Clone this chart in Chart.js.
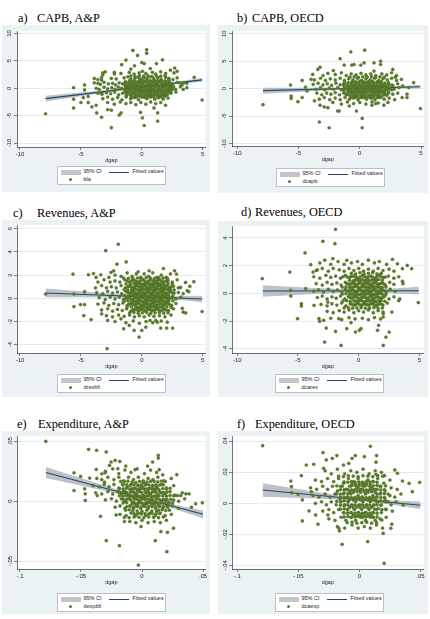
<!DOCTYPE html>
<html>
<head>
<meta charset="utf-8">
<script src="https://cdn.jsdelivr.net/npm/chart.js@4.4.1/dist/chart.umd.min.js"></script>
<style>
html, body { margin: 0; padding: 0; background: #fff; }
body { width: 430px; height: 619px; position: relative; overflow: hidden; }
.ttl { position: absolute; font-family: 'Liberation Serif', 'Times New Roman', serif; font-size: 12.3px; line-height: 1; color: #000; white-space: pre; }
.box { position: absolute; background: #eaf2f3; }
.box canvas { position: absolute; left: 0; top: 0; }
.lg { position: absolute; width: 107px; height: 17px; background: #fff; border: 0.7px solid #b9c1c4; font-family: 'Liberation Sans', Arial, sans-serif; font-size: 5.5px; line-height: 1; color: #222; }
.lg div { position: absolute; }
</style>
</head>
<body>
<script>
////
///////////////////// Data /////////////////////
////

const xTicksGap = [-10, -5, 0, 5];
const xTicksShare = [-.1, -.05, 0, .05];
const yTicksA = [-10, -5, 0, 5, 10];
const yTicksC = [-4, -2, 0, 2, 4, 6];
const yTicksD = [-4, -2, 0, 2, 4];
const yTicksE = [-.05, 0, .05];
const yTicksF = [-.04, -.02, 0, .02, .04];

const seriesNames = ["bla", "dcapb", "drevbfi", "dcarev", "dexpbfi", "dcaexp"];

// a) CAPB, A&P
const aPts = [
    [-7.9,-4.66],[-5.6,0.1],[-5.6,-3.6],[-5.6,-2.0],[-5.0,-2.6],[-4.7,0.6],[-4.7,-0.3],[-4.8,-1.7],[-4.4,-1.5],[-4.4,-2.6],
    [-4.1,-3.4],[-3.9,1.0],[-3.75,-3.1],[-3.7,-4.5],[-3.3,-5.3],[-3.3,1.5],[-3.3,-0.8],[-3.2,2.5],[-3.0,3.0],[-2.8,-3.9],
    [-2.5,-4.0],[-2.5,-7.2],[-2.25,2.6],[-1.85,-4.9],[-1.7,-4.5],[-1.65,4.3],[-1.3,5.15],[-0.73,6.9],[-0.6,4.1],[-0.35,6.0],
    [0,4.7],[0.2,4.5],[0.4,7.05],[0.4,6.4],[-0.1,-4.4],[0.05,-5.4],[0.2,-6.8],[1.0,-3.6],[1.3,-4.5],[1.3,-6.0],
    [1.7,5.2],[1.2,4.5],[1.95,-3.1],[2.7,3.7],[2.9,3.1],[3.4,-0.2],[3.7,0.1],[4.3,2.0],[4.95,-2.15],[3.1,1.0],[3.45,1.0],
    [-3.2,2.8],[-2.26,2.9],[-1.71,2.7],[-1.03,2.9],[-0.63,2.6],[-0.22,2.8],[0.05,3.1],[0.33,2.7],[0.87,2.9],[1.14,2.6],
    [1.55,3.0],[1.96,2.7],[2.64,2.8],[2.35,3.3],[-0.9,3.5],[0.7,3.6],
    [-3.9,1.8],[-3.6,1.6],[-3.3,2.0],[-2.5,1.8],[-2.1,1.7],[-1.45,1.9],[-1.15,2.1],[-0.9,1.7],[-0.57,1.8],[-0.3,2.0],
    [-0.08,1.7],[0.19,1.9],[0.46,1.8],[0.73,2.1],[1.0,1.7],[1.33,1.9],[1.6,1.6],[1.96,2.0],[2.23,1.8],[2.56,1.6],[2.9,1.9],
    [-3.6,0.9],[-3.4,0.7],[-3.1,1.1],[-2.75,0.8],[-2.4,0.9],[-2.15,0.6],[-1.85,1.0],[-1.57,0.8],[-1.3,1.1],[-1.03,0.7],
    [-0.76,1.0],[-0.49,0.8],[-0.22,1.1],[0.05,0.9],[0.33,1.2],[0.6,0.8],[0.87,1.1],[1.14,0.9],[1.41,1.2],[1.68,0.8],
    [1.96,1.0],[2.23,1.2],[2.5,0.8],[2.9,1.1],[3.3,0.6],[3.7,0.9],
    [-3.75,0.0],[-3.5,-0.2],[-3.1,0.2],[-2.8,-0.1],[-2.47,0.1],[-2.2,-0.2],[-1.93,0.2],[-1.66,0.0],[-1.39,-0.2],[-1.11,0.1],
    [-0.84,0.2],[-0.57,-0.1],[-0.3,0.1],[-0.03,-0.2],[0.24,0.2],[0.52,0.0],[0.79,-0.2],[1.06,0.2],[1.33,0.0],[1.6,-0.1],
    [1.88,0.2],[2.15,-0.1],[2.42,0.1],[2.77,-0.2],[3.17,0.3],
    [-3.6,-0.9],[-3.27,-1.1],[-2.9,-0.8],[-2.56,-1.0],[-2.23,-0.7],[-1.9,-1.2],[-1.57,-0.9],[-1.25,-0.7],[-0.92,-1.1],[-0.6,-0.8],
    [-0.27,-1.0],[0.05,-0.7],[0.35,-1.1],[0.68,-0.9],[1.0,-0.6],[1.33,-1.0],[1.65,-0.8],[2.0,-1.1],[2.4,-0.9],[2.8,-0.7],
    [-3.2,-1.9],[-2.8,-1.6],[-2.4,-2.0],[-1.98,-1.7],[-1.63,-2.1],[-1.28,-1.6],[-0.92,-1.9],[-0.6,-1.7],[-0.27,-2.1],[0.05,-1.6],
    [0.41,-1.9],[0.73,-1.6],[1.06,-2.0],[1.41,-1.7],[1.76,-2.0],[2.15,-1.8],
    [-2.8,-2.6],[-2.26,-2.9],[-1.76,-2.5],[-1.3,-2.8],[-0.9,-2.6],[-0.49,-3.0],[-0.08,-2.6],[0.33,-2.9],[0.73,-2.5],[1.14,-2.8],[1.55,-2.6],
    [-0.4,0.45],[-0.1,0.5],[0.2,0.4],[0.5,0.5],[0.8,0.45],[1.1,0.5],[1.4,0.4],[1.7,0.5],[2.0,0.45],
    [-0.35,-0.45],[-0.05,-0.5],[0.25,-0.4],[0.55,-0.5],[0.85,-0.45],[1.15,-0.5],[1.45,-0.4],[1.75,-0.45],
    [-0.2,1.45],[0.1,1.4],[0.4,1.5],[0.7,1.4],[1.0,1.5],[1.3,1.4],[1.6,1.45],
    [-0.5,-1.4],[-0.2,-1.35],[0.1,-1.45],[0.4,-1.35],[0.7,-1.4],[1.0,-1.35],[1.3,-1.45],
    [-1.2,0.4],[-0.9,0.55],[-0.65,0.3],[2.3,0.5],[2.6,0.3],[-1.2,-0.5],[-0.9,-0.35],[-0.6,-0.55],[2.1,-0.5],[2.4,-0.35],
    [-1.0,1.4],[-0.6,1.3],[1.9,1.35],[2.2,1.5],[-1.3,-1.4],[-0.9,-1.35],[1.6,-1.35],[1.9,-1.45]
];
const aCore = [
    [-0.9,2.25],[-0.55,2.15],[-0.2,2.3],[0.15,2.2],[0.5,2.3],[0.85,2.15],[1.2,2.25],[1.55,2.2],[1.9,2.3],
    [-1.35,1.2],[-1.05,1.1],[-0.75,1.25],[-0.45,1.15],[-0.15,1.2],[0.15,1.1],[0.45,1.25],[0.75,1.15],[1.05,1.2],[1.35,1.1],[1.65,1.2],[1.95,1.15],[2.25,1.25],
    [-1.4,0.7],[-1.1,0.65],[-0.8,0.75],[-0.5,0.65],[-0.2,0.7],[0.1,0.75],[0.4,0.65],[0.7,0.7],[1.0,0.75],[1.3,0.65],[1.6,0.7],[1.9,0.75],[2.2,0.65],[2.5,0.7],
    [-1.35,0.25],[-1.05,0.2],[-0.75,0.3],[-0.45,0.2],[-0.15,0.25],[0.15,0.3],[0.45,0.2],[0.75,0.25],[1.05,0.3],[1.35,0.2],[1.65,0.25],[1.95,0.3],[2.25,0.2],[2.55,0.25],
    [-1.4,-0.2],[-1.1,-0.25],[-0.8,-0.15],[-0.5,-0.25],[-0.2,-0.2],[0.1,-0.3],[0.4,-0.2],[0.7,-0.25],[1.0,-0.15],[1.3,-0.25],[1.6,-0.2],[1.9,-0.3],[2.2,-0.2],[2.5,-0.25],
    [-1.35,-0.7],[-1.05,-0.65],[-0.75,-0.75],[-0.45,-0.7],[-0.15,-0.65],[0.15,-0.75],[0.45,-0.7],[0.75,-0.65],[1.05,-0.75],[1.35,-0.7],[1.65,-0.65],[1.95,-0.75],[2.25,-0.7],
    [-1.2,-1.15],[-0.9,-1.2],[-0.6,-1.1],[-0.3,-1.2],[0.0,-1.15],[0.3,-1.1],[0.6,-1.2],[0.9,-1.15],[1.2,-1.1],[1.5,-1.2],[1.8,-1.15],[2.1,-1.2],
    [-0.8,-1.6],[-0.45,-1.65],[-0.1,-1.55],[0.25,-1.65],[0.6,-1.6],[0.95,-1.55],[1.3,-1.65],[1.65,-1.6]
];
const aFitX = [-7.9, 4.95];
const aFitY = [-1.9, 1.53];
const aCiX = [-7.9, -4, -1, 0.5, 2.5, 4.95];
const aCiLo = [-2.42, -1.16, -0.23, 0.2, 0.68, 1.21];
const aCiHi = [-1.38, -0.56, 0.11, 0.48, 1.08, 1.85];

// b) CAPB, OECD
const bPts = [
    [-7.9,-2.9],[-5.65,0.67],[-5.6,-1.33],[-5.6,-1.76],[-5.05,-2.36],[-4.7,1.5],[-4.7,-1.6],[-4.43,0.3],[-4.3,-0.4],[-3.97,1.7],
    [-3.84,2.6],[-3.7,-2.2],[-3.43,3.5],[-3.24,3.9],[-3.24,-3.0],[-3.3,-6.06],[-2.9,-3.3],[-2.6,-3.45],[-2.5,-7.1],[-2.16,3.3],
    [-1.8,-4.06],[-1.68,-4.06],[-1.6,5.45],[-1.27,4.3],[-0.73,6.7],[-0.65,4.3],[-0.46,4.4],[-0.27,-4.06],[0.08,4.3],[0.35,4.7],
    [0.4,7.0],[0.2,-5.4],[0.2,-7.1],[1.16,4.7],[1.7,5.0],[1.7,4.4],[1.16,3.2],[2.7,3.5],[2.9,2.1],[3.46,-1.6],
    [3.86,-1.0],[3.86,-1.6],[4.4,1.1],[4.0,0.2],[4.95,-3.6],[1.0,-3.0],[1.97,-3.0],[1.3,-2.7],[-0.86,-3.15],
    [-3.0,2.4],[-2.6,2.8],[-2.0,2.6],[-1.5,2.9],[-1.1,2.4],[-0.7,2.7],[-0.3,2.5],[0.1,2.8],[0.5,2.5],[0.9,2.7],
    [1.3,2.4],[1.8,2.7],[2.2,2.5],[2.6,2.9],[3.0,2.4],
    [-3.7,1.6],[-3.2,1.9],[-2.8,1.5],[-2.4,1.8],[-2.0,1.6],[-1.6,1.9],[-1.25,1.5],[-0.9,1.8],[-0.55,1.6],[-0.2,1.9],
    [0.15,1.5],[0.5,1.8],[0.85,1.6],[1.2,1.9],[1.55,1.5],[1.9,1.8],[2.25,1.6],[2.6,1.9],[3.0,1.5],[3.4,1.7],
    [-3.8,0.8],[-3.4,1.0],[-3.0,0.7],[-2.65,0.9],[-2.3,0.6],[-1.95,1.0],[-1.6,0.7],[-1.3,0.9],[-1.0,0.6],[-0.7,1.0],
    [-0.4,0.7],[-0.1,0.9],[0.2,0.6],[0.5,1.0],[0.8,0.7],[1.1,0.9],[1.4,0.6],[1.7,1.0],[2.0,0.7],[2.35,0.9],[2.7,0.6],[3.1,0.9],[3.5,0.5],
    [-3.6,-0.1],[-3.2,0.2],[-2.85,-0.2],[-2.5,0.1],[-2.15,-0.1],[-1.8,0.2],[-1.5,-0.2],[-1.2,0.1],[-0.9,-0.1],[-0.6,0.2],
    [-0.3,-0.2],[0.0,0.1],[0.3,-0.1],[0.6,0.2],[0.9,-0.2],[1.2,0.1],[1.5,-0.1],[1.8,0.2],[2.1,-0.2],[2.45,0.1],[2.8,-0.1],[3.2,0.2],
    [-3.5,-0.8],[-3.1,-1.1],[-2.7,-0.8],[-2.35,-1.0],[-2.0,-0.7],[-1.65,-1.1],[-1.3,-0.8],[-1.0,-1.0],[-0.7,-0.7],[-0.4,-1.1],
    [-0.1,-0.8],[0.2,-1.0],[0.5,-0.7],[0.8,-1.1],[1.1,-0.8],[1.4,-1.0],[1.7,-0.7],[2.0,-1.1],[2.35,-0.8],[2.7,-1.0],[3.1,-0.8],
    [-3.3,-1.9],[-2.9,-1.6],[-2.45,-2.0],[-2.0,-1.7],[-1.6,-2.0],[-1.2,-1.6],[-0.85,-1.9],[-0.5,-1.7],[-0.15,-2.0],[0.2,-1.6],
    [0.55,-1.9],[0.9,-1.7],[1.25,-2.0],[1.6,-1.6],[2.0,-1.9],[2.4,-1.7],[2.85,-2.0],
    [-2.2,-2.5],[-1.5,-2.8],[-1.0,-2.4],[-0.5,-2.7],[0.0,-2.5],[0.5,-2.8],[1.0,-2.4],[1.5,-2.6],[2.3,-2.5],
    [-0.85,0.4],[-0.55,0.45],[-0.25,0.35],[0.05,0.45],[0.35,0.4],[0.65,0.45],[0.95,0.35],[1.25,0.45],[1.55,0.4],[1.85,0.45],[2.15,0.35],
    [-0.85,-0.45],[-0.55,-0.5],[-0.25,-0.4],[0.05,-0.5],[0.35,-0.45],[0.65,-0.4],[0.95,-0.5],[1.25,-0.45],[1.55,-0.4],[1.85,-0.5],
    [-0.6,1.3],[-0.3,1.25],[0.0,1.35],[0.35,1.25],[0.7,1.3],[1.05,1.35],[1.4,1.25],[1.75,1.3],
    [-0.6,-1.35],[-0.25,-1.4],[0.1,-1.3],[0.45,-1.4],[0.8,-1.35],[1.15,-1.3],[1.5,-1.4]
];
const bCore = [
    [-0.8,2.1],[-0.45,2.2],[-0.1,2.05],[0.25,2.15],[0.6,2.1],[0.95,2.2],[1.3,2.05],[1.65,2.15],[2.0,2.1],
    [-1.25,1.05],[-0.95,1.1],[-0.65,1.0],[-0.35,1.1],[-0.05,1.05],[0.25,1.0],[0.55,1.1],[0.85,1.05],[1.15,1.0],[1.45,1.1],[1.75,1.05],[2.05,1.0],[2.35,1.1],
    [-1.3,0.6],[-1.0,0.65],[-0.7,0.55],[-0.4,0.6],[-0.1,0.65],[0.2,0.55],[0.5,0.6],[0.8,0.65],[1.1,0.55],[1.4,0.6],[1.7,0.65],[2.0,0.55],[2.3,0.6],[2.6,0.65],
    [-1.25,0.2],[-0.95,0.25],[-0.65,0.15],[-0.35,0.2],[-0.05,0.25],[0.25,0.15],[0.55,0.2],[0.85,0.25],[1.15,0.15],[1.45,0.2],[1.75,0.25],[2.05,0.15],[2.35,0.2],
    [-1.3,-0.25],[-1.0,-0.2],[-0.7,-0.3],[-0.4,-0.25],[-0.1,-0.2],[0.2,-0.3],[0.5,-0.25],[0.8,-0.2],[1.1,-0.3],[1.4,-0.25],[1.7,-0.2],[2.0,-0.3],[2.3,-0.25],[2.6,-0.2],
    [-1.25,-0.7],[-0.95,-0.65],[-0.65,-0.75],[-0.35,-0.7],[-0.05,-0.65],[0.25,-0.75],[0.55,-0.7],[0.85,-0.65],[1.15,-0.75],[1.45,-0.7],[1.75,-0.65],[2.05,-0.75],[2.35,-0.7],
    [-1.1,-1.15],[-0.8,-1.2],[-0.5,-1.1],[-0.2,-1.2],[0.1,-1.15],[0.4,-1.1],[0.7,-1.2],[1.0,-1.15],[1.3,-1.1],[1.6,-1.2],[1.9,-1.15],[2.2,-1.2],
    [-0.7,-1.6],[-0.35,-1.55],[0.0,-1.65],[0.35,-1.6],[0.7,-1.55],[1.05,-1.65],[1.4,-1.6],[1.75,-1.55]
];
const bFitX = [-7.9, 4.95];
const bFitY = [-0.36, 0.36];
const bCiX = [-7.9, -4, -1, 0.5, 2.5, 4.95];
const bCiLo = [-0.91, -0.46, -0.15, -0.03, 0.02, 0.04];
const bCiHi = [0.19, 0.18, 0.19, 0.25, 0.42, 0.68];

// c) Revenues, A&P
const cPts = [
    [-7.9,0.37],[-5.65,2.09],[-5.57,0.37],[-5.57,-0.71],[-5.03,-0.54],[-4.7,0.57],[-4.7,-0.54],[-4.76,-1.49],[-4.38,2.03],[-4.16,-1.83],
    [-3.97,2.14],[-3.75,1.8],[-3.37,2.03],[-3.29,-1.34],[-2.96,4.11],[-2.8,-1.91],[-2.85,-4.34],[-2.53,2.23],[-2.31,2.37],[-1.93,4.66],
    [-2.04,2.94],[-1.71,-1.77],[-1.49,-2.63],[-1.28,3.14],[-1.03,-2.34],[-0.63,-2.77],[-0.3,2.29],[-0.22,-3.34],[0,-2.77],[0.33,-2.49],
    [0.6,2.37],[0.68,-1.91],[1.14,-1.91],[1.28,-2.06],[1.55,-2.57],[1.77,2.57],[2.04,-2.57],[2.09,-2.06],[2.53,-2.57],[2.69,2.37],
    [2.85,2.09],[3.18,0.94],[3.32,-0.86],[3.4,-1.2],[3.59,1.37],[3.61,-1.26],[3.72,0.66],[4.27,1.43],[4.95,-1.14],[3.86,0.57],[3.94,1.03],
    [-2.7,1.8],[-2.2,2.0],[-1.7,1.9],[-1.2,2.2],[-0.8,1.9],[-0.45,2.1],[-0.1,1.8],[0.2,2.1],[0.55,1.9],[0.9,2.2],
    [1.25,1.8],[1.6,2.0],[2.0,1.8],[2.35,2.1],
    [-3.6,1.4],[-3.1,1.6],[-2.6,1.4],[-2.2,1.5],[-1.8,1.4],[-1.4,1.6],[-1.0,1.4],[-0.65,1.6],[-0.3,1.4],[0.05,1.6],
    [0.4,1.4],[0.75,1.6],[1.1,1.45],[1.45,1.6],[1.8,1.4],[2.15,1.55],[2.5,1.4],[2.9,1.6],
    [-3.8,0.9],[-3.3,1.1],[-2.9,0.9],[-2.5,1.0],[-2.1,0.9],[-1.7,1.1],[-1.35,0.9],[-1.0,1.05],[-0.7,0.9],[-0.4,1.1],
    [-0.1,0.95],[0.2,1.1],[0.5,0.9],[0.8,1.05],[1.1,0.9],[1.4,1.1],[1.7,0.95],[2.0,1.1],[2.3,0.9],[2.6,1.05],[3.0,0.9],
    [-3.7,0.5],[-3.2,0.4],[-2.8,0.6],[-2.4,0.45],[-2.0,0.55],[-1.65,0.4],[-1.3,0.6],[-1.0,0.45],[-0.7,0.55],[-0.4,0.4],
    [-0.1,0.6],[0.2,0.45],[0.5,0.55],[0.8,0.4],[1.1,0.6],[1.4,0.45],[1.7,0.55],[2.0,0.4],[2.3,0.6],[2.65,0.45],[3.0,0.5],[3.4,0.4],
    [-3.5,0.05],[-3.0,-0.1],[-2.6,0.1],[-2.2,-0.05],[-1.85,0.1],[-1.5,-0.1],[-1.15,0.05],[-0.85,-0.1],[-0.55,0.1],[-0.25,-0.05],
    [0.05,0.1],[0.35,-0.1],[0.65,0.05],[0.95,-0.1],[1.25,0.1],[1.55,-0.05],[1.85,0.1],[2.15,-0.1],[2.45,0.05],[2.8,-0.05],[3.2,0.1],
    [-3.6,-0.5],[-3.1,-0.4],[-2.7,-0.6],[-2.3,-0.45],[-1.9,-0.55],[-1.55,-0.4],[-1.2,-0.6],[-0.9,-0.45],[-0.6,-0.55],[-0.3,-0.4],
    [0.0,-0.6],[0.3,-0.45],[0.6,-0.55],[0.9,-0.4],[1.2,-0.6],[1.5,-0.45],[1.8,-0.55],[2.1,-0.4],[2.45,-0.6],[2.8,-0.45],
    [-3.3,-1.0],[-2.8,-0.9],[-2.4,-1.1],[-2.0,-0.95],[-1.6,-1.05],[-1.25,-0.9],[-0.9,-1.1],[-0.6,-0.95],[-0.3,-1.05],[0.0,-0.9],
    [0.3,-1.1],[0.6,-0.95],[0.9,-1.05],[1.2,-0.9],[1.5,-1.1],[1.85,-0.95],[2.2,-1.05],[2.6,-0.9],
    [-2.9,-1.5],[-2.4,-1.6],[-1.9,-1.45],[-1.45,-1.55],[-1.0,-1.45],[-0.6,-1.6],[-0.2,-1.5],[0.2,-1.6],[0.6,-1.45],[1.0,-1.55],
    [1.45,-1.5],[1.9,-1.6],[2.4,-1.45],
    [-2.2,-2.0],[-1.3,-2.1],[-0.7,-1.95],[-0.2,-2.15],[0.35,-2.0],[0.9,-2.1],[1.6,-1.95],
    [-0.85,0.75],[-0.55,0.8],[-0.25,0.7],[0.05,0.8],[0.35,0.75],[0.65,0.8],[0.95,0.7],[1.25,0.8],[1.55,0.75],[1.85,0.8],[2.15,0.75],
    [-0.7,0.25],[-0.4,0.2],[-0.1,0.3],[0.2,0.25],[0.5,0.2],[0.8,0.3],[1.1,0.25],[1.4,0.2],[1.7,0.3],[2.0,0.25],
    [-0.7,-0.25],[-0.4,-0.3],[-0.1,-0.2],[0.2,-0.3],[0.5,-0.25],[0.8,-0.2],[1.1,-0.3],[1.4,-0.25],[1.7,-0.2],[2.0,-0.3],
    [-0.5,-0.75],[-0.2,-0.8],[0.1,-0.7],[0.4,-0.8],[0.7,-0.75],[1.0,-0.7],[1.3,-0.8],[1.6,-0.75],
    [-0.5,1.25],[-0.2,1.3],[0.1,1.2],[0.4,1.3],[0.7,1.25],[1.0,1.2],[1.3,1.3],[1.6,1.25]
];
const cCore = [
    [-1.2,1.5],[-0.83,1.52],[-0.48,1.48],[-0.13,1.5],[0.22,1.52],[0.57,1.5],[0.93,1.48],[1.28,1.52],[1.63,1.5],[1.98,1.48],
    [-1.15,1.0],[-0.85,0.98],[-0.55,1.02],[-0.25,1.0],[0.05,0.98],[0.35,1.02],[0.65,1.0],[0.95,0.98],[1.25,1.02],[1.55,1.0],[1.85,0.98],[2.15,1.02],[2.45,1.0],
    [-1.15,0.5],[-0.85,0.52],[-0.55,0.48],[-0.25,0.5],[0.05,0.52],[0.35,0.48],[0.65,0.5],[0.95,0.52],[1.25,0.48],[1.55,0.5],[1.85,0.52],[2.15,0.48],[2.45,0.5],
    [-1.3,0.0],[-1.0,0.02],[-0.7,-0.02],[-0.4,0.0],[-0.1,0.02],[0.2,-0.02],[0.5,0.0],[0.8,0.02],[1.1,-0.02],[1.4,0.0],[1.7,0.02],[2.0,-0.02],[2.3,0.0],
    [-1.05,-0.5],[-0.75,-0.48],[-0.45,-0.52],[-0.15,-0.5],[0.15,-0.48],[0.45,-0.52],[0.75,-0.5],[1.05,-0.48],[1.35,-0.52],[1.65,-0.5],[1.95,-0.48],[2.25,-0.52],
    [-0.75,-1.0],[-0.45,-0.98],[-0.15,-1.02],[0.15,-1.0],[0.45,-0.98],[0.75,-1.02],[1.05,-1.0],[1.35,-0.98],[1.7,-1.02],[2.0,-1.0],
    [-1.5,1.75],[-1.1,1.72],[-0.75,1.78],[-0.35,1.75],[0.0,1.72],[0.35,1.78],[0.7,1.75],[1.05,1.72],[1.4,1.78],[1.75,1.75],[2.1,1.72],
    [-1.3,1.25],[-0.95,1.22],[-0.65,1.28],[-0.35,1.25],[-0.05,1.22],[0.25,1.28],[0.55,1.25],[0.85,1.22],[1.15,1.28],[1.45,1.25],[1.8,1.22],[2.15,1.28],[2.5,1.25],
    [-1.45,0.75],[-1.15,0.72],[-0.7,0.78],[-0.4,0.75],[-0.1,0.72],[0.2,0.78],[0.5,0.75],[0.8,0.72],[1.1,0.78],[1.4,0.75],[1.7,0.72],[2.0,0.78],[2.35,0.75],[2.65,0.72],
    [-1.4,0.25],[-1.1,0.22],[-0.85,0.28],[-0.55,0.25],[-0.25,0.22],[0.05,0.28],[0.35,0.25],[0.65,0.22],[0.95,0.28],[1.25,0.25],[1.55,0.22],[1.85,0.28],[2.2,0.25],[2.55,0.22],
    [-1.45,-0.25],[-1.15,-0.22],[-0.85,-0.28],[-0.55,-0.25],[-0.25,-0.22],[0.05,-0.28],[0.35,-0.25],[0.65,-0.22],[0.95,-0.28],[1.25,-0.25],[1.55,-0.22],[1.85,-0.28],[2.2,-0.25],[2.55,-0.22],
    [-1.2,-0.75],[-0.85,-0.72],[-0.35,-0.78],[-0.05,-0.75],[0.25,-0.72],[0.55,-0.78],[0.85,-0.75],[1.15,-0.72],[1.45,-0.78],[1.75,-0.75],[2.05,-0.72],[2.4,-0.78],
    [-1.0,-1.25],[-0.65,-1.22],[-0.3,-1.28],[0.05,-1.25],[0.4,-1.22],[0.75,-1.28],[1.1,-1.25],[1.45,-1.22],[1.8,-1.28],[2.15,-1.25]
];
const cFitX = [-7.9, 4.95];
const cFitY = [0.46, -0.06];
const cCiX = [-7.9, -4, -1, 0.5, 2.5, 4.95];
const cCiLo = [0.08, 0.08, 0.07, 0.03, -0.09, -0.33];
const cCiHi = [0.84, 0.52, 0.29, 0.21, 0.17, 0.21];

// d) Revenues, OECD
const dPts = [
    [-7.94,1.06],[-5.67,1.54],[-5.62,0.22],[-5.59,-0.19],[-5.04,-1.83],[-4.72,-0.75],[-4.72,-0.92],[-4.42,2.92],[-4.36,0.34],[-3.95,2.07],
    [-3.76,1.54],[-3.68,-0.87],[-3.49,1.66],[-3.27,-1.83],[-3.22,-2.02],[-2.95,3.76],[-2.89,-1.95],[-2.81,-3.52],[-2.67,-2.51],[-2.54,-0.63],
    [-2.13,2.51],[-1.96,3.59],[-1.91,4.63],[-1.91,-2.75],[-1.45,-3.76],[-1.64,-1.83],[-0.98,2.39],[-0.98,-2.55],[-0.63,-2.12],[-0.27,-2.8],
    [0.05,-2.67],[0.19,-2.55],[1.55,-2.67],[1.64,-2.31],[2.02,-1.47],[2.02,-1.71],[2.02,-3.76],[2.24,-3.16],[2.51,-2.8],[2.78,2.46],
    [3.19,2.14],[3.6,1.78],[3.6,0.87],[3.65,0.7],[4.0,2.02],[4.36,1.78],[4.91,-0.67],[3.3,-0.53],[2.73,-1.35],[3.38,-0.39],
    [-3.2,2.2],[-2.8,2.4],[-2.3,2.1],[-1.7,2.3],[-1.2,2.1],[-0.6,2.2],[-0.1,2.3],[0.3,2.1],[0.8,2.4],[1.3,2.2],[1.7,2.3],[2.3,2.1],
    [-3.4,1.7],[-3.0,1.8],[-2.5,1.6],[-2.1,1.8],[-1.6,1.7],[-1.2,1.6],[-0.8,1.8],[-0.4,1.65],[0.0,1.8],[0.4,1.6],
    [0.8,1.75],[1.2,1.6],[1.6,1.8],[2.0,1.65],[2.5,1.75],[2.9,1.6],
    [-3.7,1.2],[-3.2,1.1],[-2.7,1.3],[-2.3,1.15],[-1.9,1.25],[-1.5,1.1],[-1.1,1.3],[-0.75,1.15],[-0.4,1.25],[-0.05,1.1],
    [0.3,1.3],[0.65,1.15],[1.0,1.25],[1.35,1.1],[1.7,1.3],[2.05,1.15],[2.45,1.25],[2.9,1.1],[3.3,1.2],
    [-3.5,0.7],[-3.0,0.6],[-2.6,0.8],[-2.2,0.65],[-1.8,0.75],[-1.45,0.6],[-1.1,0.8],[-0.8,0.65],[-0.5,0.75],[-0.2,0.6],
    [0.1,0.8],[0.4,0.65],[0.7,0.75],[1.0,0.6],[1.3,0.8],[1.6,0.65],[1.9,0.75],[2.2,0.6],[2.55,0.8],[2.9,0.65],
    [-3.7,0.15],[-3.3,0.25],[-2.9,0.1],[-2.5,0.3],[-2.1,0.15],[-1.75,0.25],[-1.4,0.1],[-1.1,0.3],[-0.8,0.15],[-0.5,0.25],
    [-0.2,0.1],[0.1,0.3],[0.4,0.15],[0.7,0.25],[1.0,0.1],[1.3,0.3],[1.6,0.15],[1.9,0.25],[2.25,0.1],[2.6,0.3],[3.0,0.15],
    [-3.4,-0.3],[-3.0,-0.2],[-2.6,-0.4],[-2.2,-0.25],[-1.85,-0.35],[-1.5,-0.2],[-1.15,-0.4],[-0.85,-0.25],[-0.55,-0.35],[-0.25,-0.2],
    [0.05,-0.4],[0.35,-0.25],[0.65,-0.35],[0.95,-0.2],[1.25,-0.4],[1.55,-0.25],[1.85,-0.35],[2.15,-0.2],[2.5,-0.4],[2.9,-0.25],
    [-3.1,-0.8],[-2.6,-0.9],[-2.2,-0.75],[-1.8,-0.85],[-1.4,-0.7],[-1.05,-0.9],[-0.7,-0.75],[-0.4,-0.85],[-0.1,-0.7],[0.2,-0.9],
    [0.5,-0.75],[0.8,-0.85],[1.1,-0.7],[1.4,-0.9],[1.7,-0.75],[2.0,-0.85],[2.35,-0.7],
    [-2.6,-1.3],[-2.1,-1.4],[-1.6,-1.25],[-1.2,-1.35],[-0.8,-1.2],[-0.4,-1.4],[0.0,-1.25],[0.4,-1.35],[0.8,-1.2],[1.2,-1.4],[1.6,-1.25],[2.0,-1.35],
    [-2.3,-1.8],[-1.4,-1.9],[-0.8,-1.75],[-0.3,-1.85],[0.3,-1.8],[0.8,-1.9],[1.3,-1.75],[1.8,-1.85],
    [-0.6,0.45],[-0.3,0.5],[0.0,0.4],[0.3,0.5],[0.6,0.45],[0.9,0.4],[1.2,0.5],[1.5,0.45],[1.8,0.4],
    [-0.6,-0.05],[-0.3,0.0],[0.0,-0.1],[0.3,0.0],[0.6,-0.05],[0.9,0.0],[1.2,-0.1],[1.5,-0.05],[1.8,0.0],
    [-0.4,-0.55],[-0.1,-0.6],[0.2,-0.5],[0.5,-0.6],[0.8,-0.55],[1.1,-0.5],[1.4,-0.6],[1.7,-0.55],
    [-0.3,0.95],[0.0,0.9],[0.3,1.0],[0.6,0.95],[0.9,0.9],[1.2,1.0],[1.5,0.95]
];
const dCore = [
    [-0.6,1.45],[-0.25,1.4],[0.1,1.5],[0.45,1.4],[0.8,1.45],[1.15,1.5],[1.5,1.4],[1.85,1.45],
    [-0.75,0.95],[-0.45,0.9],[-0.15,1.0],[0.15,0.95],[0.45,0.9],[0.75,1.0],[1.05,0.95],[1.35,0.9],[1.65,1.0],[1.95,0.95],
    [-0.95,0.7],[-0.65,0.7],[-0.35,0.72],[-0.05,0.68],[0.25,0.7],[0.55,0.72],[0.85,0.68],[1.15,0.7],[1.45,0.72],[1.75,0.68],[2.05,0.7],
    [-0.95,0.2],[-0.65,0.22],[-0.35,0.18],[-0.05,0.2],[0.25,0.22],[0.55,0.18],[0.85,0.2],[1.15,0.22],[1.45,0.18],[1.75,0.2],[2.05,0.22],
    [-0.7,-0.3],[-0.4,-0.28],[-0.1,-0.32],[0.2,-0.3],[0.5,-0.28],[0.8,-0.32],[1.1,-0.3],[1.4,-0.28],[1.7,-0.32],[2.0,-0.3],
    [-0.55,-0.8],[-0.25,-0.82],[0.05,-0.78],[0.35,-0.8],[0.65,-0.82],[0.95,-0.78],[1.25,-0.8],[1.55,-0.82],[1.85,-0.78],
    [-1.3,1.2],[-0.95,1.18],[-0.6,1.22],[-0.25,1.2],[0.1,1.18],[0.45,1.22],[0.8,1.2],[1.15,1.18],[1.5,1.22],[1.85,1.2],[2.2,1.18],
    [-1.35,0.45],[-1.05,0.47],[-0.75,0.43],[-0.45,0.45],[-0.15,0.47],[0.15,0.43],[0.45,0.45],[0.75,0.47],[1.05,0.43],[1.35,0.45],[1.65,0.47],[1.95,0.43],[2.25,0.45],
    [-1.35,-0.05],[-1.05,-0.03],[-0.75,-0.07],[-0.45,-0.05],[-0.15,-0.03],[0.15,-0.07],[0.45,-0.05],[0.75,-0.03],[1.05,-0.07],[1.35,-0.05],[1.65,-0.03],[1.95,-0.07],[2.25,-0.05],
    [-1.3,-0.55],[-1.0,-0.53],[-0.7,-0.57],[-0.25,-0.55],[0.05,-0.53],[0.35,-0.57],[0.65,-0.55],[0.95,-0.53],[1.25,-0.57],[1.55,-0.55],[1.85,-0.53],[2.15,-0.57],
    [-1.2,-1.05],[-0.85,-1.03],[-0.5,-1.07],[-0.15,-1.05],[0.2,-1.03],[0.55,-1.07],[0.9,-1.05],[1.25,-1.03],[1.6,-1.07],[1.95,-1.05]
];
const dFitX = [-7.9, 4.95];
const dFitY = [0.17, 0.19];
const dCiX = [-7.9, -4, -1, 0.5, 2.5, 4.95];
const dCiLo = [-0.25, -0.07, 0.05, 0.07, 0.03, -0.09];
const dCiHi = [0.59, 0.41, 0.29, 0.27, 0.33, 0.47];

// e) Expenditure, A&P
const ePts = [
    [-.0788,.050],[-.0557,.0237],[-.0503,.0207],[-.0557,.0089],[-.047,.0103],[-.0465,.0061],[-.0465,.0006],[-.0438,.0433],[-.0429,.0193],[-.0372,.0425],
    [-.0375,.0265],[-.0367,.0047],[-.034,-.0126],[-.0329,.0229],[-.0302,.0237],[-.0293,.0411],[-.0293,-.033],[-.0307,.0159],[-.0266,.0299],[-.0253,.0327],
    [-.022,.0341],[-.0198,.0271],[-.0212,-.0115],[-.0182,.0332],[-.0185,-.0372],[-.0144,-.017],[-.0133,.0293],[-.0057,.0263],[-.003,-.0534],[-.0008,-.0212],
    [.0046,.0293],[.0087,.0327],[.0133,.0383],[.0133,.036],[.0141,.0263],[.0109,-.033],[.0155,-.0254],[.0204,-.0422],[.0209,-.026],[.0258,-.0226],
    [.0285,.0221],[.0291,.0047],[.0318,.0047],[.0359,.0061],[.0386,.0061],[.0405,-.005],[.044,-.0022],[.0495,-.0014],
    [-.030,.025],[-.024,.027],[-.019,.023],[-.014,.026],[-.009,.024],[-.004,.027],[.002,.023],[.007,.026],[.012,.024],[.017,.022],
    [-.037,.019],[-.033,.018],[-.028,.020],[-.023,.018],[-.019,.020],[-.015,.017],[-.011,.020],[-.007,.018],[-.003,.020],[.001,.017],
    [.005,.019],[.009,.018],[.013,.020],[.018,.017],[.024,.019],
    [-.040,.013],[-.035,.012],[-.031,.014],[-.027,.012],[-.023,.014],[-.019,.011],[-.016,.014],[-.012,.012],[-.009,.014],[-.006,.011],
    [-.003,.013],[.000,.012],[.003,.014],[.006,.011],[.009,.013],[.012,.012],[.016,.014],[.020,.011],[.026,.013],
    [-.038,.007],[-.033,.006],[-.028,.008],[-.024,.006],[-.020,.008],[-.017,.006],[-.014,.008],[-.011,.005],[-.008,.008],[-.005,.006],
    [-.002,.008],[.001,.005],[.004,.007],[.007,.006],[.010,.008],[.013,.005],[.016,.007],[.019,.006],[.023,.008],[.027,.005],[.033,.007],
    [-.030,.001],[-.025,.002],[-.021,.000],[-.017,.002],[-.014,.000],[-.011,.002],[-.008,-.001],[-.005,.002],[-.002,.000],[.001,.002],
    [.004,-.001],[.007,.001],[.010,-.001],[.013,.002],[.016,.000],[.019,.001],[.022,-.001],[.026,.001],[.030,.000],[.035,.002],
    [-.022,-.005],[-.018,-.004],[-.014,-.006],[-.010,-.004],[-.007,-.006],[-.004,-.004],[-.001,-.006],[.002,-.004],[.005,-.006],[.008,-.004],
    [.011,-.006],[.014,-.004],[.017,-.006],[.021,-.005],[.025,-.004],[.030,-.006],
    [-.018,-.011],[-.013,-.012],[-.009,-.010],[-.005,-.012],[-.001,-.010],[.003,-.012],[.007,-.010],[.011,-.012],[.015,-.010],[.019,-.012],[.024,-.011],
    [-.010,-.017],[-.005,-.018],[.000,-.016],[.005,-.018],[.010,-.017],[.015,-.018],[.020,-.016],
    [-.010,.010],[-.007,.0105],[-.004,.0095],[-.001,.0105],[.002,.010],[.005,.0095],[.008,.0105],[.011,.010],[.014,.0095],
    [-.010,.004],[-.007,.0035],[-.004,.0045],[-.001,.0035],[.002,.004],[.005,.0045],[.008,.0035],[.011,.004],[.014,.0045],
    [-.008,-.002],[-.005,-.0025],[-.002,-.0015],[.001,-.0025],[.004,-.002],[.007,-.0015],[.010,-.0025],[.013,-.002],
    [-.008,.016],[-.005,.0155],[-.002,.0165],[.001,.0155],[.004,.016],[.007,.0165],
    [-.004,-.008],[.000,-.0085],[.004,-.0075],[.008,-.008],[.012,-.0085]
];
const eCore = [
    [-.0155,.0135],[-.0125,.0138],[-.0095,.0132],[-.0065,.0137],[-.0035,.0133],[-.0005,.0136],[.0025,.0134],[.0055,.0137],[.0085,.0132],[.0115,.0136],[.0145,.0134],[.0175,.0136],
    [-.0185,.0075],[-.0155,.0078],[-.0125,.0072],[-.0095,.0076],[-.0065,.0073],[-.0035,.0077],[-.0005,.0074],[.0025,.0076],[.0055,.0073],[.0085,.0077],[.0115,.0074],[.0145,.0076],[.0175,.0073],[.0205,.0076],
    [-.0155,.0015],[-.0125,.0018],[-.0095,.0012],[-.0065,.0016],[-.0035,.0013],[-.0005,.0017],[.0025,.0014],[.0055,.0016],[.0085,.0013],[.0115,.0017],[.0145,.0014],[.0175,.0016],[.0205,.0013],[.0235,.0015],
    [-.0125,-.0045],[-.0095,-.0042],[-.0065,-.0048],[-.0035,-.0044],[-.0005,-.0047],[.0025,-.0043],[.0055,-.0046],[.0085,-.0044],[.0115,-.0047],[.0145,-.0043],[.0175,-.0046],[.0205,-.0044],
    [-.0065,-.0105],[-.0035,-.0102],[-.0005,-.0108],[.0025,-.0104],[.0055,-.0107],[.0085,-.0103],[.0115,-.0106],[.0145,-.0104],
    [-.0175,.0165],[-.0145,.0162],[-.0115,.0168],[.010,.0165],[.013,.0162],[.016,.0168],[.019,.0165],
    [-.0185,.0105],[-.0155,.0102],[-.013,.0108],[.017,.0105],[.020,.0102],[.023,.0108],
    [-.0085,.0102],[-.0055,.0108],[-.0025,.0102],[.0005,.0108],[.0035,.0102],[.0065,.0108],[.0095,.0102],[.0125,.0108],
    [-.0185,.0045],[-.0155,.0042],[-.013,.0048],[.017,.0045],[.020,.0042],[.023,.0048],[.026,.0045],
    [-.0085,.0042],[-.0055,.0048],[-.0025,.0042],[.0005,.0048],[.0035,.0042],[.0065,.0048],[.0095,.0042],[.0125,.0048],
    [-.0155,-.0015],[-.0125,-.0012],[.016,-.0015],[.019,-.0012],[.022,-.0018],[.025,-.0015],
    [-.0065,-.0012],[-.0035,-.0018],[-.0005,-.0012],[.0025,-.0018],[.0055,-.0012],[.0085,-.0018],[.0115,-.0012],
    [-.0135,-.0075],[-.0105,-.0072],[-.0075,-.0078],[.0135,-.0075],[.0165,-.0072],[.0195,-.0078],[.0225,-.0075],
    [-.0145,-.0135],[-.0105,-.0138],[-.0065,-.0132],[-.0025,-.0135],[.0015,-.0138],[.0055,-.0132],[.0095,-.0135],[.0135,-.0138],[.0175,-.0132]
];
const eFitX = [-.0788, .05];
const eFitY = [.024, -.011];
const eCiX = [-.0788, -.04, -.01, .003, .025, .05];
const eCiLo = [.0194, .0108, .0041, .0008, -.0059, -.0142];
const eCiHi = [.0286, .0160, .0065, .0028, -.0025, -.0078];

// f) Expenditure, OECD
const fPts = [
    [-.0792,.0372],[-.0561,.0144],[-.0556,.0108],[-.0556,.0069],[-.0502,.0058],[-.0475,.0178],[-.0467,.0022],[-.0467,-.0114],[-.0434,.0247],[-.0412,-.0049],
    [-.0393,.0075],[-.0374,.0252],[-.0358,-.0075],[-.0339,-.0135],[-.0298,.0327],[-.0293,.0226],[-.0271,.028],[-.0258,-.0075],[-.0222,.029],[-.0184,.0308],
    [-.0168,-.0161],[-.0163,-.0178],[-.0141,-.0265],[-.013,.0247],[-.0087,.0258],[-.006,.029],[-.0033,.0308],[.0041,.0301],[.009,.0368],[.0141,.0308],
    [.0136,.0265],[.0184,-.0108],[.0068,-.0247],[.0203,-.0387],[.0195,-.0194],[.0258,-.0161],[.0266,-.0135],[.029,.0215],[.0312,.0194],[.0353,.0144],
    [.0358,-.0011],[.0407,.0129],[.0434,.0075],[.0494,.0135],[.0136,.0187],[.0206,.0178],
    [-.028,.021],[-.023,.019],[-.018,.022],[-.012,.019],[-.007,.021],[-.002,.020],[.003,.022],[.008,.019],[.013,.021],[.018,.020],
    [-.036,.015],[-.031,.014],[-.026,.016],[-.021,.014],[-.017,.016],[-.013,.013],[-.009,.016],[-.005,.014],[-.001,.016],[.003,.013],
    [.007,.015],[.011,.014],[.015,.016],[.020,.013],[.025,.015],
    [-.040,.010],[-.035,.009],[-.030,.011],[-.026,.009],[-.022,.011],[-.018,.008],[-.014,.011],[-.011,.009],[-.008,.011],[-.005,.008],
    [-.002,.010],[.001,.009],[.004,.011],[.007,.008],[.010,.010],[.013,.009],[.017,.011],[.021,.008],[.026,.010],[.031,.009],
    [-.038,.005],[-.033,.004],[-.028,.006],[-.024,.004],[-.020,.006],[-.016,.003],[-.013,.006],[-.010,.004],[-.007,.006],[-.004,.003],
    [-.001,.005],[.002,.004],[.005,.006],[.008,.003],[.011,.005],[.014,.004],[.017,.006],[.021,.003],[.025,.005],[.029,.004],[.034,.006],
    [-.036,.000],[-.031,.001],[-.027,-.001],[-.023,.001],[-.019,-.001],[-.015,.001],[-.012,-.001],[-.009,.001],[-.006,-.001],[-.003,.001],
    [.000,-.001],[.003,.001],[.006,-.001],[.009,.001],[.012,-.001],[.015,.001],[.018,-.001],[.022,.001],[.026,-.001],[.030,.001],
    [-.030,-.005],[-.025,-.004],[-.021,-.006],[-.017,-.004],[-.013,-.006],[-.010,-.004],[-.007,-.006],[-.004,-.004],[-.001,-.006],[.002,-.004],
    [.005,-.006],[.008,-.004],[.011,-.006],[.014,-.004],[.018,-.006],[.022,-.004],[.027,-.005],
    [-.025,-.010],[-.020,-.011],[-.015,-.009],[-.011,-.011],[-.007,-.009],[-.003,-.011],[.001,-.009],[.005,-.011],[.009,-.009],[.013,-.011],[.017,-.010],[.022,-.009],
    [-.018,-.015],[-.012,-.016],[-.006,-.014],[-.001,-.016],[.004,-.015],[.009,-.016],[.014,-.014],[.019,-.016],
    [-.008,.0075],[-.005,.007],[-.002,.0075],[.001,.007],[.004,.0075],[.007,.007],[.010,.0075],[.013,.007],
    [-.008,.0025],[-.005,.002],[-.002,.0025],[.001,.002],[.004,.0025],[.007,.002],[.010,.0025],[.013,.002],
    [-.008,-.0025],[-.005,-.003],[-.002,-.0025],[.001,-.003],[.004,-.0025],[.007,-.003],[.010,-.0025],
    [-.006,.0125],[-.003,.012],[.000,.0125],[.003,.012],[.006,.0125],[.009,.012],
    [-.005,-.0075],[-.002,-.008],[.001,-.0075],[.004,-.008],[.007,-.0075],[.010,-.008]
];
const fCore = [
    [-.0125,.0138],[-.0095,.0136],[-.0065,.014],[-.0035,.0137],[-.0005,.0139],[.0025,.0136],[.0055,.0139],[.0085,.0137],[.0115,.014],[.0145,.0136],
    [-.0155,.0088],[-.0125,.0086],[-.0095,.009],[-.0065,.0087],[-.0035,.0089],[-.0005,.0086],[.0025,.009],[.0055,.0087],[.0085,.0089],[.0115,.0086],[.0145,.009],[.0175,.0087],[.0205,.0089],
    [-.0155,.0038],[-.0125,.0036],[-.0095,.004],[-.0065,.0037],[-.0035,.0039],[-.0005,.0036],[.0025,.004],[.0055,.0037],[.0085,.0039],[.0115,.0036],[.0145,.004],[.0175,.0037],[.0205,.0039],
    [-.0155,-.0012],[-.0125,-.0014],[-.0095,-.001],[-.0065,-.0013],[-.0035,-.0011],[-.0005,-.0014],[.0025,-.001],[.0055,-.0013],[.0085,-.0011],[.0115,-.0014],[.0145,-.001],[.0175,-.0013],
    [-.0125,-.0062],[-.0095,-.0064],[-.0065,-.006],[-.0035,-.0063],[-.0005,-.0061],[.0025,-.0064],[.0055,-.006],[.0085,-.0063],[.0115,-.0061],[.0145,-.0064],
    [-.017,.0175],[-.013,.0172],[-.009,.0178],[-.005,.0175],[-.001,.0172],[.003,.0178],[.007,.0175],[.011,.0172],[.015,.0178],[.019,.0175],
    [-.0185,.0113],[-.0155,.011],[-.0065,.0113],[-.0035,.0116],[-.0005,.011],[.0025,.0113],[.0055,.0116],[.0085,.011],[.0115,.0113],[.0145,.0116],[.0175,.011],[.0215,.0113],
    [-.0185,.0063],[-.0155,.006],[-.0125,.0066],[-.0095,.0063],[.0145,.006],[.0175,.0066],[.0205,.0063],[.0235,.006],
    [-.0185,.0013],[-.0155,.001],[-.0125,.0016],[-.0095,.0013],[.0145,.001],[.0175,.0016],[.0205,.0013],[.0235,.001],
    [-.0155,-.0038],[-.0125,-.0035],[-.0095,-.0041],[.0125,-.0038],[.0155,-.0035],[.0185,-.0041],[.0215,-.0038],
    [-.0125,-.0088],[-.0095,-.0085],[-.0065,-.0091],[-.0035,-.0088],[-.0005,-.0085],[.0025,-.0091],[.0055,-.0088],[.0085,-.0085],[.0115,-.0091],[.0145,-.0088],
    [-.01,-.0125],[-.006,-.0122],[-.002,-.0128],[.002,-.0125],[.006,-.0122],[.010,-.0128],[.014,-.0125]
];
const fFitX = [-.0792, .05];
const fFitY = [.0086, -.0013];
const fCiX = [-.0792, -.04, -.01, .003, .025, .05];
const fCiLo = [.0043, .0032, .0022, .0014, -.0008, -.0037];
const fCiHi = [.0129, .0080, .0044, .0032, .0020, .0011];

////
///////////////////// Panels /////////////////////
////

const green = '#597b2b';
const navy = '#1a476f';
const bandColor = 'rgba(168,174,178,0.75)';
const sans = "'Liberation Sans', Arial, sans-serif";

// box: left, top, width, height / area: plot area edges in page pixels
const panels = [
    { tag: 'a)', title: 'CAPB, A&P', tagX: 18, titleX: 37, titleY: 11.7, box: [2, 25, 208, 167], area: [17, 31, 207, 147],
      xr: [-10.245, 5.245], yr: [-10.73, 10.457], xt: xTicksGap, yt: yTicksA, ypad: 0,
      pts: aPts.concat(aCore), fitX: aFitX, fitY: aFitY, ciX: aCiX, ciLo: aCiLo, ciHi: aCiHi, name: seriesNames[0], lg: [57, 166] },
    { tag: 'b)', title: 'CAPB, OECD', tagX: 237, titleX: 252, titleY: 11.7, box: [218, 25, 210, 168], area: [232, 31, 425, 146],
      xr: [-10.43, 5.22], yr: [-10.42, 10.49], xt: xTicksGap, yt: yTicksA, ypad: 0,
      pts: bPts.concat(bCore), fitX: bFitX, fitY: bFitY, ciX: bCiX, ciLo: bCiLo, ciHi: bCiHi, name: seriesNames[1], lg: [276, 168] },
    { tag: 'c)', title: 'Revenues, A&P', tagX: 13, titleX: 37, titleY: 206.7, box: [2, 220, 208, 177], area: [17, 225, 207, 353],
      xr: [-10.245, 5.245], yr: [-4.716, 6.32], xt: xTicksGap, yt: yTicksC, ypad: 1.3,
      pts: cPts.concat(cCore), fitX: cFitX, fitY: cFitY, ciX: cCiX, ciLo: cCiLo, ciHi: cCiHi, name: seriesNames[2], lg: [57, 374] },
    { tag: 'd)', title: 'Revenues, OECD', tagX: 241, titleX: 255, titleY: 205.7, box: [218, 221, 210, 176], area: [232, 226, 425, 353],
      xr: [-10.433, 5.352], yr: [-4.311, 4.867], xt: xTicksGap, yt: yTicksD, ypad: 1.3,
      pts: dPts.concat(dCore), fitX: dFitX, fitY: dFitY, ciX: dCiX, ciLo: dCiLo, ciHi: dCiHi, name: seriesNames[3], lg: [275, 374] },
    { tag: 'e)', title: 'Expenditure, A&P', tagX: 17, titleX: 38, titleY: 417.7, box: [2, 431, 208, 183], area: [17, 436, 207, 569],
      xr: [-.10244, .0522], yr: [-.05668, .05443], xt: xTicksShare, yt: yTicksE, ypad: -1.2,
      pts: ePts.concat(eCore), fitX: eFitX, fitY: eFitY, ciX: eCiX, ciLo: eCiLo, ciHi: eCiHi, name: seriesNames[4], lg: [57, 593] },
    { tag: 'f)', title: 'Expenditure, OECD', tagX: 237, titleX: 255, titleY: 417.7, box: [218, 431, 210, 183], area: [232, 436, 425, 569],
      xr: [-.10431, .05268], yr: [-.04239, .04342], xt: xTicksShare, yt: yTicksF, ypad: -1.2,
      pts: fPts.concat(fCore), fitX: fFitX, fitY: fFitY, ciX: fCiX, ciLo: fCiLo, ciHi: fCiHi, name: seriesNames[5], lg: [275, 593] }
];

// Stata style labels: .05, -.1
const fmt = v => String(v).replace('0.', '.');

const plotBg = {
    id: 'plotBg',
    beforeDraw(chart) {
        const a = chart.chartArea;
        const ctx = chart.ctx;
        ctx.save();
        ctx.fillStyle = '#fff';
        ctx.fillRect(a.left, a.top, a.right - a.left, a.bottom - a.top);
        ctx.restore();
    }
};

const addDiv = (parent, cls, css, text) => {
    const el = document.createElement('div');
    if (cls) el.className = cls;
    Object.assign(el.style, css);
    if (text) el.textContent = text;
    parent.appendChild(el);
    return el;
};

function makePanel(p) {
    const [bx, by, bw, bh] = p.box;
    const [al, at, ar, ab] = p.area;

    addDiv(document.body, 'ttl', { left: p.tagX + 'px', top: p.titleY + 'px' }, p.tag);
    addDiv(document.body, 'ttl', { left: p.titleX + 'px', top: p.titleY + 'px' }, p.title);

    const box = addDiv(document.body, 'box', { left: bx + 'px', top: by + 'px', width: bw + 'px', height: bh + 'px' });
    const canvas = document.createElement('canvas');
    canvas.width = bw;
    canvas.height = bh;
    box.appendChild(canvas);

    const xAxisH = 20;

    new Chart(canvas, {
        type: 'scatter',
        data: {
            datasets: [
                {
                    data: p.pts.map(d => ({ x: d[0], y: d[1] })),
                    pointRadius: 1.6,
                    pointBackgroundColor: green,
                    pointBorderColor: '#4a6a20',
                    pointBorderWidth: 0.3
                },
                {
                    data: p.fitX.map((x, i) => ({ x: x, y: p.fitY[i] })),
                    showLine: true,
                    borderColor: navy,
                    borderWidth: 1.1,
                    pointRadius: 0
                },
                {
                    data: p.ciX.map((x, i) => ({ x: x, y: p.ciHi[i] })),
                    showLine: true,
                    borderColor: 'rgba(0,0,0,0)',
                    pointRadius: 0,
                    fill: '+1',
                    backgroundColor: bandColor
                },
                {
                    data: p.ciX.map((x, i) => ({ x: x, y: p.ciLo[i] })),
                    showLine: true,
                    borderColor: 'rgba(0,0,0,0)',
                    pointRadius: 0
                }
            ]
        },
        options: {
            responsive: false,
            animation: false,
            events: [],
            layout: {
                padding: { left: 0, top: at - by, right: bx + bw - ar, bottom: by + bh - ab - xAxisH }
            },
            plugins: { legend: { display: false }, tooltip: { enabled: false } },
            scales: {
                x: {
                    type: 'linear',
                    min: p.xr[0],
                    max: p.xr[1],
                    afterBuildTicks: s => { s.ticks = p.xt.map(v => ({ value: v })); },
                    afterFit: s => { s.height = xAxisH; },
                    ticks: { callback: fmt, autoSkip: false, maxRotation: 0, padding: 1, color: '#222', font: { family: sans, size: 6 } },
                    grid: { drawOnChartArea: false, drawTicks: true, tickLength: 3, tickColor: '#333', tickWidth: 0.6 },
                    border: { display: true, color: '#333', width: 0.7 },
                    title: { display: true, text: 'dgap', color: '#222', font: { family: sans, size: 5.5 }, padding: { top: 0, bottom: 3 } }
                },
                y: {
                    type: 'linear',
                    min: p.yr[0],
                    max: p.yr[1],
                    afterBuildTicks: s => { s.ticks = p.yt.map(v => ({ value: v })); },
                    afterFit: s => { s.width = al - bx; },
                    ticks: { callback: fmt, autoSkip: false, minRotation: 90, maxRotation: 90, crossAlign: 'center', padding: p.ypad, color: '#222', font: { family: sans, size: 6 } },
                    grid: { color: '#dfe7ea', lineWidth: 0.8, drawTicks: true, tickLength: 3, tickColor: '#333', tickWidth: 0.6 },
                    border: { display: true, color: '#333', width: 0.7 }
                }
            }
        },
        plugins: [plotBg]
    });

    // legend box, Stata layout
    const lg = addDiv(document.body, 'lg', { left: p.lg[0] + 'px', top: p.lg[1] + 'px' });
    addDiv(lg, null, { left: '2.5px', top: '3px', width: '20px', height: '4.5px', background: '#c2c6c9' });
    addDiv(lg, null, { left: '25.5px', top: '2.4px' }, '95% CI');
    addDiv(lg, null, { left: '50.5px', top: '5px', width: '20px', height: '0.9px', background: navy });
    addDiv(lg, null, { left: '74.5px', top: '2.4px' }, 'Fitted values');
    addDiv(lg, null, { left: '11.2px', top: '11.2px', width: '3px', height: '3px', borderRadius: '50%', background: green });
    addDiv(lg, null, { left: '25.5px', top: '10.3px' }, p.name);
}

panels.forEach(makePanel);
</script>
</body>
</html>
